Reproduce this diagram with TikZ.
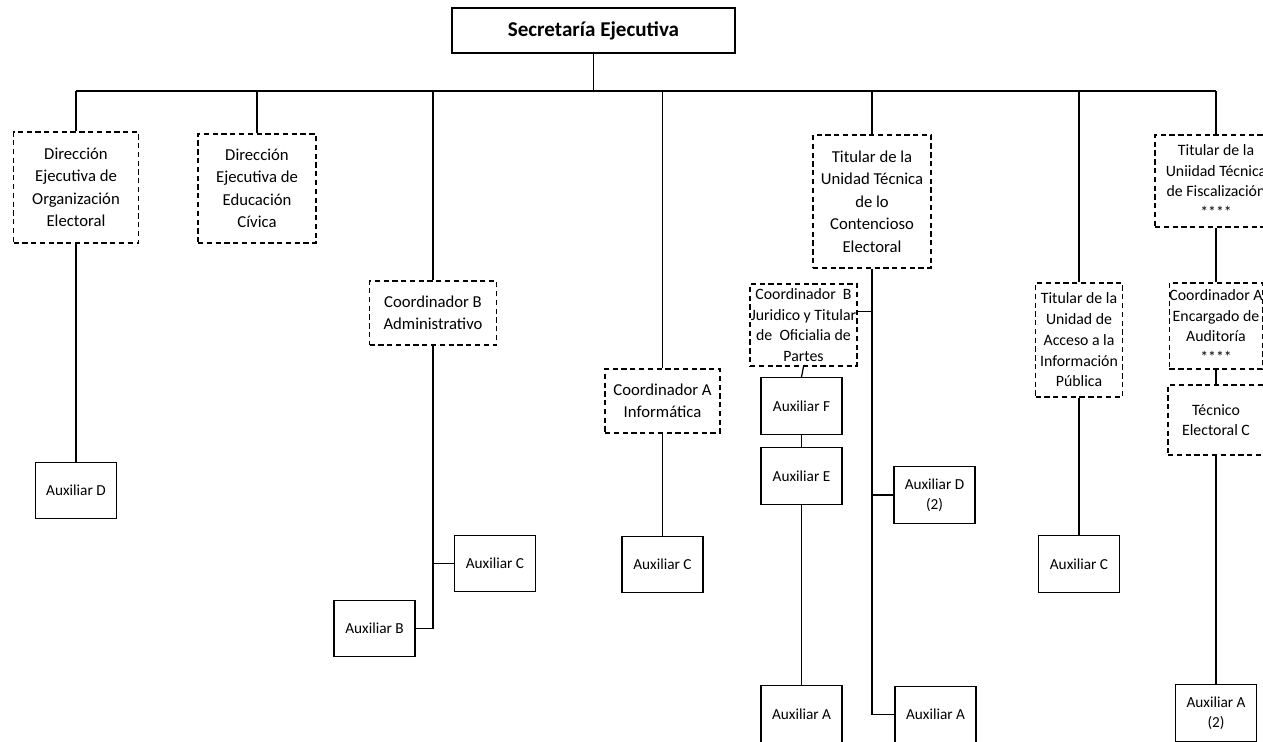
\documentclass[tikz,border=0pt]{standalone}
\usepackage{fontspec}
\setmainfont{Carlito}
\usepackage{tikz}
\usetikzlibrary{positioning}

\newcommand{\areafont}{\fontsize{9.5}{12.8}\selectfont}
\newcommand{\smallareafont}{\fontsize{9}{11.8}\selectfont}
\newcommand{\auxfont}{\fontsize{8.7}{11.6}\selectfont}

\begin{document}
\begin{tikzpicture}[x=0.02cm, y=-0.02cm,
    jefe/.style = {draw, line width=0.8pt, align=center, inner sep=0pt, font=\bfseries\fontsize{12}{14}\selectfont},
    area/.style = {draw, dashed, dash pattern=on 3pt off 2pt, line width=0.7pt, align=center, inner sep=0pt, font=\areafont},
    subarea/.style = {area, font=\smallareafont},
    aux/.style = {draw, line width=0.8pt, align=center, inner sep=0pt, font=\auxfont, minimum width=1.62cm, minimum height=1.13cm},
    every path/.style = {line width=0.7pt}]
    \useasboundingbox (0,0) rectangle (1263,742);
    \fill[white] (0,0) rectangle (1263,742);

    % cabeza
    \node[jefe, minimum width=5.66cm, minimum height=0.9cm](se) at (593.5,30.5){Secretaría Ejecutiva};
    \coordinate (busL) at (76,91);
    \coordinate (busR) at (1216,91);
    \draw (busL) -- (busR);
    \draw (se.south) -- (se.south |- busL);

    % areas
    \node[area, minimum width=2.5cm, minimum height=2.22cm](deoe) at (76,187.5){Dirección\\Ejecutiva de\\Organización\\Electoral};
    \node[area, minimum width=2.36cm, minimum height=2.18cm](deec) at (257,188.5){Dirección\\Ejecutiva de\\Educación\\Cívica};
    \node[area, minimum width=2.54cm, minimum height=1.28cm](cba) at (433,313){Coordinador B\\Administrativo};
    \node[area, minimum width=2.3cm, minimum height=1.28cm](cai) at (662.5,401){Coordinador A\\Informática};
    \node[area, minimum width=2.36cm, minimum height=2.66cm](utce) at (872,201.5){Titular de la\\Unidad Técnica\\de lo\\Contencioso\\Electoral};
    \node[subarea, minimum width=1.74cm, minimum height=2.28cm](uaip) at (1079,340){Titular de la\\Unidad de\\Acceso a la\\Información\\Pública};
    \node[subarea, minimum width=2.44cm, minimum height=1.84cm](utf) at (1216,181){Titular de la\\Uniidad Técnica\\de Fiscalización\\****};
    \foreach \n in {deoe,deec,cba,cai,utce,uaip,utf}
        \draw (\n.north) -- (\n.north |- busL);

    % subareas
    \node[subarea, minimum width=2.14cm, minimum height=1.64cm](cbj) at (803.5,325){Coordinador~~B\\Juridico y Titular\\de~~Oficialia de\\Partes};
    \node[subarea, minimum width=1.8cm, minimum height=1.72cm](cae) at (1216,326){Coordinador A\\Encargado de\\Auditoría\\****};
    \node[subarea, minimum width=1.92cm, minimum height=1.4cm](tec) at (1216,420){Técnico\\Electoral C};

    % auxiliares
    \node[aux](auxD1) at (76,490.5){Auxiliar D};
    \node[aux](auxC1) at (495,563.5){Auxiliar C};
    \node[aux](auxB) at (374.5,628.5){Auxiliar B};
    \node[aux](auxC2) at (662.5,564.5){Auxiliar C};
    \node[aux](auxF) at (801.5,406){Auxiliar F};
    \node[aux](auxE) at (801.5,476){Auxiliar E};
    \node[aux](auxA1) at (801.5,714){Auxiliar A};
    \node[aux](auxD2) at (934.5,495){Auxiliar D\\(2)};
    \node[aux](auxA2) at (935.5,714.5){Auxiliar A};
    \node[aux](auxC3) at (1079,564){Auxiliar C};
    \node[aux](auxA3) at (1216,713){Auxiliar A\\(2)};

    % lineas
    \draw (deoe.south) -- (auxD1.north);
    \draw (cba.south) |- (auxB.east);
    \draw (auxC1.west) -- (auxC1.west -| cba.south);
    \draw (cai.south) -- (auxC2.north);
    \draw (utce.south) |- (auxA2.west);
    \draw (cbj.14) -- (cbj.14 -| utce.south);
    \draw (auxD2.west) -- (auxD2.west -| utce.south);
    \draw (cbj.south) -- (auxF.north);
    \draw (auxF.south) -- (auxE.north);
    \draw (auxE.south) -- (auxA1.north);
    \draw (uaip.south) -- (auxC3.north);
    \draw (utf.south) -- (cae.north);
    \draw (cae.south) -- (tec.north);
    \draw (tec.south) -- (auxA3.north);
\end{tikzpicture}
\end{document}
